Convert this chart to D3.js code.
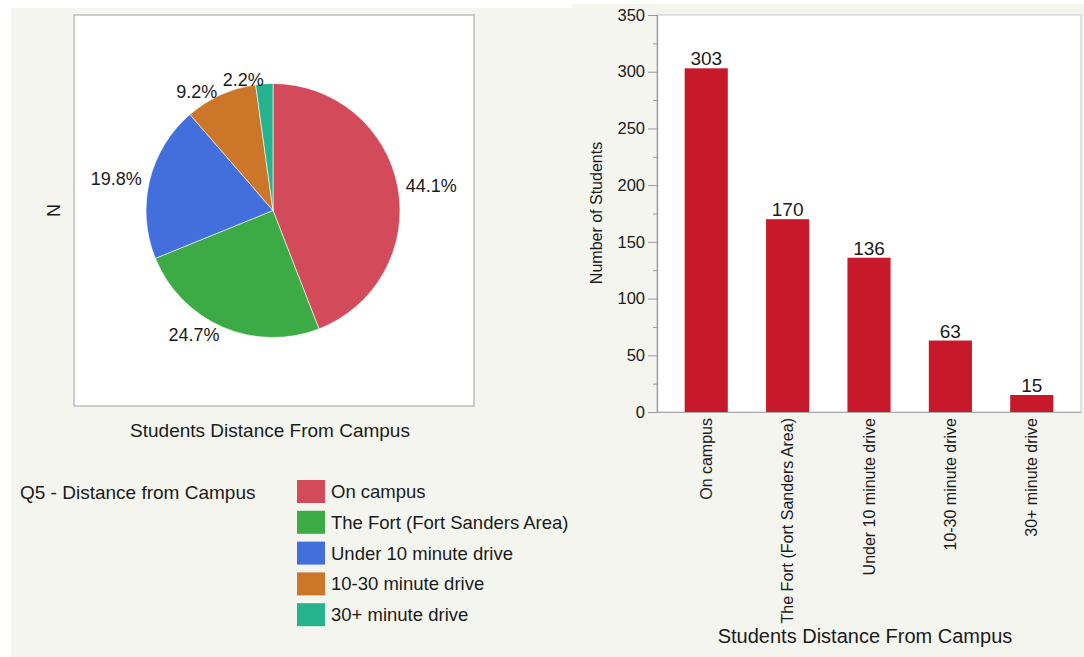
<!DOCTYPE html>
<html lang="en">
<head>
  <meta charset="UTF-8">
  <title>Students Distance From Campus</title>
  <style>
    body {
      margin: 0;
      background: #fff;
      font-family: "Liberation Sans", Arial, Helvetica, sans-serif;
    }
    svg { display: block; }
    text { fill: #1a1a1a; }
  </style>
</head>
<body>
  <script src="https://d3js.org/d3.v7.min.js"></script>
  <script>
    // data
    const categories = ['On campus', 'The Fort (Fort Sanders Area)', 'Under 10 minute drive', '10-30 minute drive', '30+ minute drive'];
    const counts = [303, 170, 136, 63, 15];
    const pieColors = ['#d34a5a', '#3dab45', '#436fdc', '#cc7629', '#25b38d'];
    const barColor = '#c8192b';
    const yTicks = [0, 50, 100, 150, 200, 250, 300, 350];
    const yMinorTicks = [25, 75, 125, 175, 225, 275, 325];

    const width = 1084;
    const height = 657;

    const svg = d3.select('body')
      .append('svg')
      .attr('width', width)
      .attr('height', height);

    // panel backgrounds
    svg.append('rect')
      .attr('x', 11).attr('y', 8)
      .attr('width', 561).attr('height', height - 8)
      .attr('fill', '#f5f5f0');
    svg.append('rect')
      .attr('x', 572).attr('y', 4)
      .attr('width', width - 572).attr('height', height - 4)
      .attr('fill', '#f5f5f0');

    // ---------- pie ----------
    const box = { x0: 74, y0: 15, x1: 474, y1: 406 };
    svg.append('rect')
      .attr('x', box.x0).attr('y', box.y0)
      .attr('width', box.x1 - box.x0).attr('height', box.y1 - box.y0)
      .attr('fill', '#fff')
      .attr('stroke', '#bdbdbd')
      .attr('stroke-width', 1.5);

    const cx = (box.x0 + box.x1) / 2 - 1;
    const cy = (box.y0 + box.y1) / 2;
    const radius = 127;
    const total = d3.sum(counts);

    const pie = d3.pie().sort(null).value(d => d);
    const arcs = pie(counts);
    const arc = d3.arc().innerRadius(0).outerRadius(radius);
    const labelArc = d3.arc().innerRadius(radius + 8).outerRadius(radius + 8);

    const pieG = svg.append('g').attr('transform', `translate(${cx},${cy})`);

    pieG.selectAll('path')
      .data(arcs)
      .enter().append('path')
        .attr('d', arc)
        .attr('fill', (d, i) => pieColors[i])
        .attr('stroke', '#fff')
        .attr('stroke-width', 0.6);

    pieG.selectAll('text')
      .data(arcs)
      .enter().append('text')
        .attr('transform', d => {
          const [lx, ly] = labelArc.centroid(d);
          // labels near the top sit a bit lower in the original
          return `translate(${lx},${ly < -100 ? ly + 4 : ly})`;
        })
        .attr('dy', '0.35em')
        .attr('text-anchor', d => ((d.startAngle + d.endAngle) / 2 < Math.PI ? 'start' : 'end'))
        .style('font-size', '18px')
        .text(d => (d.value / total * 100).toFixed(1) + '%');

    svg.append('text')
      .attr('transform', `translate(54,${cy}) rotate(-90)`)
      .attr('text-anchor', 'middle')
      .attr('dy', '0.35em')
      .style('font-size', '18px')
      .text('N');

    svg.append('text')
      .attr('x', 270)
      .attr('y', 437)
      .attr('text-anchor', 'middle')
      .style('font-size', '19px')
      .text('Students Distance From Campus');

    // legend
    svg.append('text')
      .attr('x', 20)
      .attr('y', 499)
      .style('font-size', '19px')
      .text('Q5 - Distance from Campus');

    const legend = svg.selectAll('.legend')
      .data(categories)
      .enter().append('g')
        .attr('class', 'legend')
        .attr('transform', (d, i) => `translate(297,${480 + i * 30.8})`);

    legend.append('rect')
      .attr('width', 28)
      .attr('height', 23)
      .attr('fill', (d, i) => pieColors[i]);

    legend.append('text')
      .attr('x', 34)
      .attr('y', 18)
      .style('font-size', '18.5px')
      .text(d => d);

    // ---------- bars ----------
    const plot = { x0: 657, y0: 15, x1: 1081, y1: 412 };

    svg.append('rect')
      .attr('x', plot.x0).attr('y', plot.y0)
      .attr('width', plot.x1 - plot.x0).attr('height', plot.y1 - plot.y0)
      .attr('fill', '#fff')
      .attr('stroke', '#cfcfcf')
      .attr('stroke-width', 1.2);

    const x = d3.scaleBand()
      .domain(categories)
      .range([plot.x0, plot.x1])
      .paddingInner(0.47)
      .paddingOuter(0.34);

    const y = d3.scaleLinear()
      .domain([0, 350])
      .range([plot.y1, plot.y0]);

    svg.selectAll('.bar')
      .data(counts)
      .enter().append('rect')
        .attr('class', 'bar')
        .attr('x', (d, i) => x(categories[i]))
        .attr('y', d => y(d))
        .attr('width', x.bandwidth())
        .attr('height', d => y(0) - y(d))
        .attr('fill', barColor);

    svg.selectAll('.val')
      .data(counts)
      .enter().append('text')
        .attr('class', 'val')
        .attr('x', (d, i) => x(categories[i]) + x.bandwidth() / 2)
        .attr('y', d => y(d) - 3)
        .attr('text-anchor', 'middle')
        .style('font-size', '19px')
        .text(d => d);

    // y axis: minor then major ticks
    const yMinor = svg.append('g')
      .attr('transform', `translate(${plot.x0},0)`)
      .call(d3.axisLeft(y).tickValues(yMinorTicks).tickSize(4).tickFormat(''));
    yMinor.select('.domain').remove();
    yMinor.selectAll('line').attr('stroke', '#999');

    const yAxis = svg.append('g')
      .attr('transform', `translate(${plot.x0},0)`)
      .call(d3.axisLeft(y).tickValues(yTicks).tickSize(9).tickPadding(3));
    yAxis.select('.domain').attr('stroke', '#999').attr('stroke-width', 1.2);
    yAxis.selectAll('line').attr('stroke', '#999');
    yAxis.selectAll('text')
      .style('font-size', '16.5px')
      .style('font-family', '"Liberation Sans", Arial, sans-serif')
      .attr('fill', '#1a1a1a');

    const xAxis = svg.append('g')
      .attr('transform', `translate(0,${plot.y1})`)
      .call(d3.axisBottom(x).tickSize(0).tickPadding(0));
    xAxis.select('.domain').attr('stroke', '#aaa').attr('stroke-width', 1.2);
    xAxis.selectAll('text')
      .attr('transform', 'rotate(-90)')
      .attr('x', -6)
      .attr('y', 0)
      .attr('dy', '0.35em')
      .attr('text-anchor', 'end')
      .style('font-size', '16px')
      .style('font-family', '"Liberation Sans", Arial, sans-serif')
      .attr('fill', '#1a1a1a');

    svg.append('text')
      .attr('transform', 'translate(596,213) rotate(-90)')
      .attr('text-anchor', 'middle')
      .attr('dy', '0.35em')
      .style('font-size', '16px')
      .text('Number of Students');

    svg.append('text')
      .attr('x', 865)
      .attr('y', 643)
      .attr('text-anchor', 'middle')
      .style('font-size', '20px')
      .text('Students Distance From Campus');
  </script>
</body>
</html>
